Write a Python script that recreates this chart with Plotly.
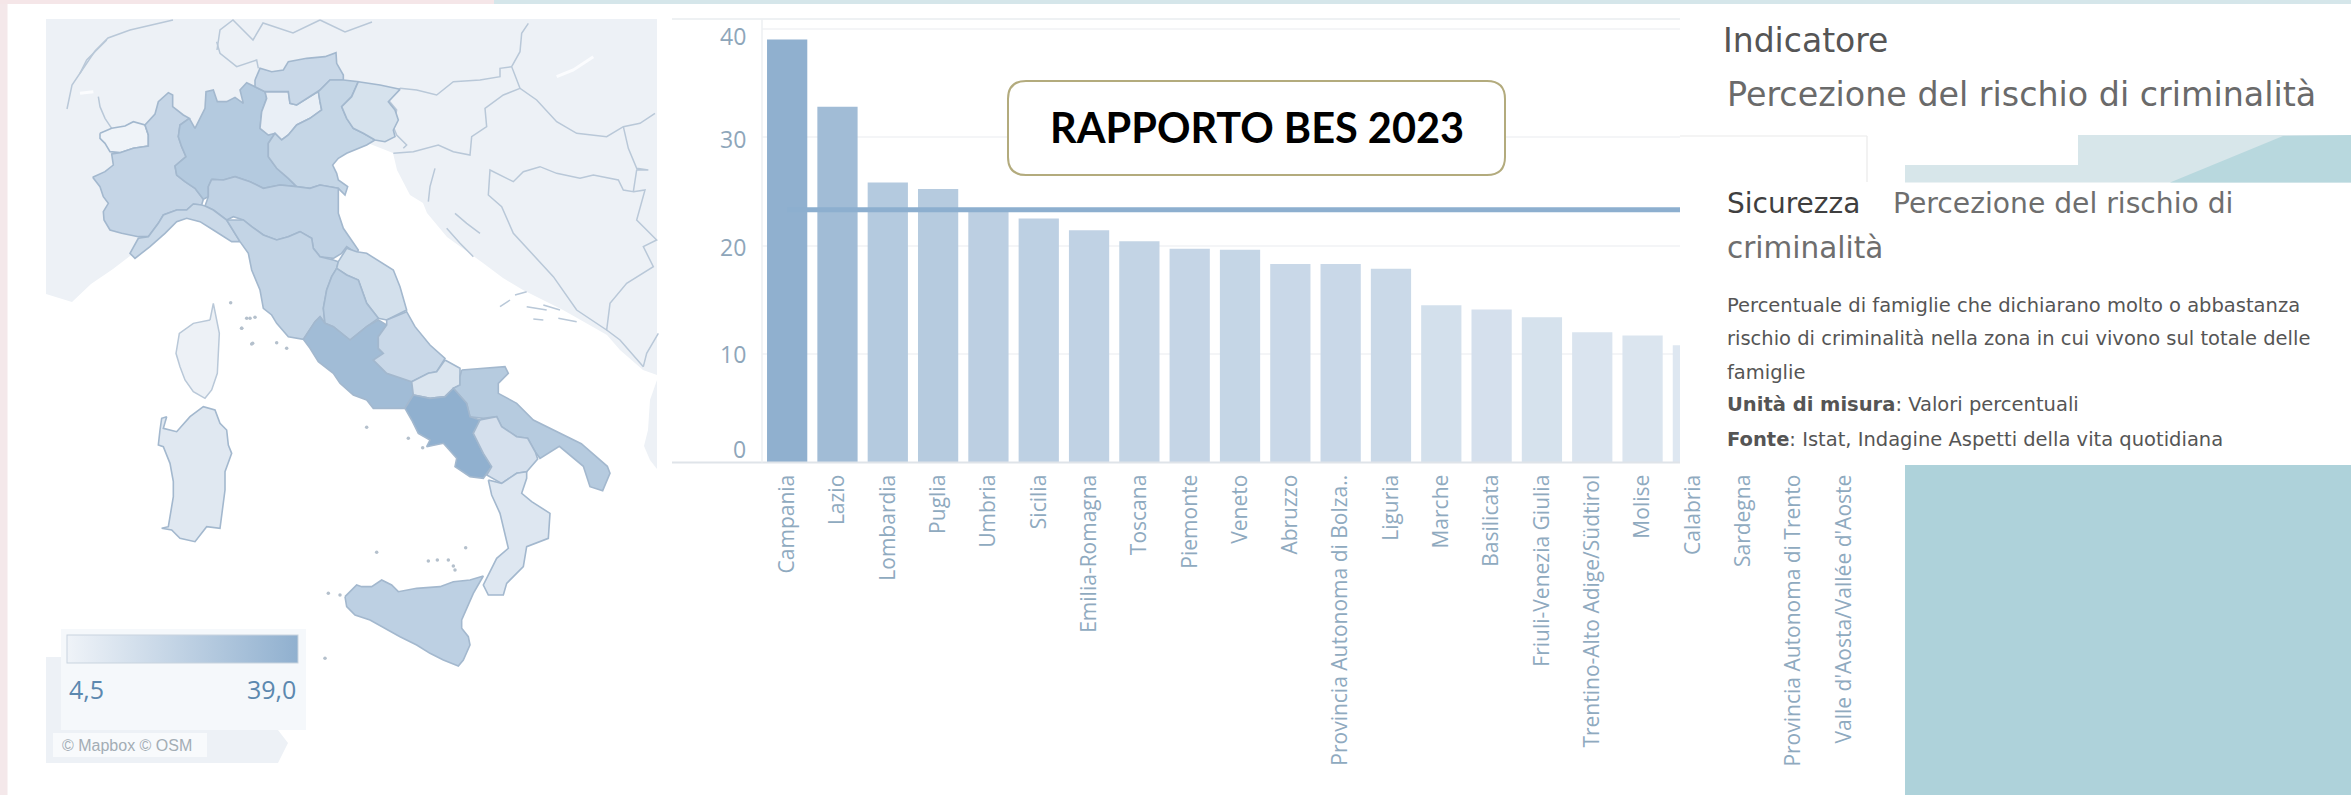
import plotly.graph_objects as go
from plotly.colors import sample_colorscale

# ---------- chart values ----------
REGIONS = ["Campania", "Lazio", "Lombardia", "Puglia", "Umbria", "Sicilia", "Emilia-Romagna", "Toscana",
           "Piemonte", "Veneto", "Abruzzo", "Provincia Autonoma di Bolza..", "Liguria", "Marche", "Basilicata",
           "Friuli-Venezia Giulia", "Trentino-Alto Adige/Südtirol", "Molise", "Calabria", "Sardegna",
           "Provincia Autonoma di Trento", "Valle d'Aosta/Vallée d'Aoste"]
VALUES = [39.0, 32.8, 25.8, 25.2, 23.2, 22.5, 21.4, 20.4, 19.7, 19.6, 18.3, 18.3, 17.85, 14.5, 14.1, 13.4,
          12.0, 11.7, 10.8, 10.0, 6.5, 4.5]
AVERAGE = 23.3
Y_TICKS = [0, 10, 20, 30, 40]
SCALE_MIN, SCALE_MAX = 4.5, 39.0
COLORSCALE = [[0, "#eff3f8"], [1, "#90b0cf"]]
VAL = dict(zip(REGIONS, VALUES))

# ---------- map outlines, traced in the zoom crops ----------
def crop(ox, oy):
    return lambda pts: [(ox + x / 3, oy + y / 3) for x, y in pts]
N, C, S, SD, E = crop(80, 40), crop(230, 220), crop(320, 460), crop(140, 290), crop(380, 20)

OUTLINES = {
 "Valle d'Aosta/Vallée d'Aoste": N([(60,280),(95,265),(135,258),(160,245),(195,255),(205,285),(205,318),(160,325),(120,338),(90,335),(75,310),(60,295)]),
 "Piemonte": N([(38,412),(75,395),(100,375),(95,342),(120,338),(160,325),(205,318),(205,285),(195,255),(225,222),(235,185),(265,158),(278,165),(278,200),(310,225),(328,235),(300,255),(295,290),(305,320),(318,350),(285,378),(290,405),(315,425),(345,445),(370,478),(365,495),(340,492),(320,510),(290,510),(250,525),(235,550),(205,590),(175,590),(125,580),(90,570),(72,540),(70,515),(85,490),(70,470),(60,440)]),
 "Lombardia": N([(328,235),(345,265),(375,205),(378,155),(400,150),(412,185),(440,185),(465,172),(490,190),(480,150),(500,128),(525,140),(555,155),(560,175),(545,215),(540,265),(565,285),(585,280),(565,310),(565,350),(590,385),(625,415),(650,440),(600,435),(550,445),(510,425),(465,410),(430,420),(395,418),(385,440),(385,470),(370,478),(345,445),(315,425),(290,405),(285,378),(318,350),(305,320),(295,290),(300,255)]),
 "Provincia Autonoma di Trento": N([(545,215),(560,175),(555,155),(590,155),(625,155),(630,190),(650,195),(690,170),(715,155),(720,185),(725,210),(690,235),(650,255),(625,285),(605,300),(585,280),(565,285),(540,265)]),
 "Provincia Autonoma di Bolza..": N([(525,120),(540,85),(575,95),(610,90),(625,65),(680,55),(735,50),(768,38),(770,70),(790,105),(790,120),(750,120),(720,150),(690,170),(650,195),(630,190),(625,155),(590,155),(555,155),(525,140)]),
 "Veneto": N([(790,120),(835,125),(815,170),(785,200),(800,235),(820,265),(850,280),(885,300),(860,315),(800,340),(775,355),(758,375),(770,400),(775,420),(803,440),(795,465),(775,445),(720,435),(690,445),(650,440),(625,415),(590,385),(565,350),(565,310),(585,280),(605,300),(625,285),(650,255),(690,235),(725,210),(720,185),(715,155),(750,120)]),
 "Friuli-Venezia Giulia": N([(835,125),(900,135),(960,148),(925,185),(945,210),(955,240),(940,270),(945,290),(915,305),(885,300),(850,280),(820,265),(800,235),(785,200),(815,170)]),
 "Emilia-Romagna": N([(395,418),(430,420),(465,410),(510,425),(550,445),(600,435),(650,440),(690,445),(720,435),(775,445),(775,520),(790,565),(835,630),(830,640),(800,620),(785,640),(760,655),(720,650),(700,625),(695,595),(660,575),(625,590),(590,600),(550,585),(515,560),(490,540),(460,530),(440,540),(400,510),(375,498),(385,470),(385,440)]),
 "Liguria": N([(365,495),(375,498),(400,510),(440,540),(480,605),(455,605),(400,570),(360,545),(320,535),(290,545),(255,580),(210,620),(165,655),(150,640),(175,595),(205,590),(235,550),(250,525),(290,510),(320,510),(340,492)]),
 "Toscana": C([(-10,0),(40,0),(65,20),(100,45),(140,60),(175,50),(210,35),(245,55),(250,85),(270,110),(310,120),(325,125),(320,145),(305,170),(290,210),(280,265),(285,310),(270,290),(255,305),(220,358),(175,350),(140,310),(125,285),(100,265),(90,210),(65,150),(55,100),(30,65)]),
 "Marche": C([(325,125),(350,85),(380,95),(410,100),(490,150),(510,200),(530,270),(470,300),(445,295),(410,250),(385,180),(350,165),(320,145)]),
 "Umbria": C([(320,145),(350,165),(385,180),(410,250),(445,295),(410,320),(360,360),(310,320),(285,310),(280,265),(290,210),(305,170)]),
 "Lazio": C([(220,358),(255,305),(270,290),(285,310),(310,320),(360,360),(410,320),(445,300),(470,315),(445,350),(445,385),(460,400),(430,420),(470,460),(545,485),(550,525),(525,565),(490,565),(430,565),(410,540),(370,525),(330,490),(310,460),(265,425),(240,385)]),
 "Abruzzo": C([(445,350),(470,315),(470,300),(530,275),(555,320),(600,375),(645,415),(620,455),(595,460),(555,480),(545,485),(470,460),(430,420),(460,400),(445,385)]),
 "Molise": C([(645,420),(690,445),(690,495),(670,505),(645,530),(600,535),(550,525),(545,485),(595,460),(620,455)]),
 "Puglia": C([(695,450),(750,445),(825,440),(835,460),(805,490),(805,520),(860,550),(910,600),(1054,671),(1132,739),(1140,760),(1118,812),(1080,800),(1060,739),(988,679),(930,715),(916,696),(893,655),(860,650),(815,620),(800,590),(760,595),(720,590),(710,550),(670,505),(690,495),(690,470)]),
 "Campania": C([(525,565),(550,525),(600,535),(645,530),(670,505),(710,550),(720,590),(750,600),(730,640),(760,700),(785,740),(760,775),(720,770),(675,740),(680,715),(640,670),(590,680),(600,660),(565,640),(545,600)]),
 "Basilicata": C([(750,600),(800,590),(815,620),(860,650),(893,655),(916,696),(923,717),(890,755),(860,760),(815,790),(770,765),(785,740),(760,700),(730,640)]),
 "Calabria": S([(505,60),(545,70),(590,40),(620,35),(620,55),(605,100),(635,125),(690,160),(685,235),(620,260),(610,320),(560,370),(550,405),(505,405),(490,375),(530,295),(565,265),(555,220),(540,160),(515,105)]),
 "Sicilia": S([(75,410),(110,375),(125,380),(155,380),(185,360),(215,375),(235,395),(290,385),(360,380),(400,365),(450,360),(490,348),(460,400),(425,480),(425,505),(445,530),(450,555),(430,600),(415,618),(370,600),(330,580),(290,555),(240,530),(195,505),(150,480),(105,465),(80,440)]),
 "Sardegna": SD([(60,420),(65,385),(80,380),(70,415),(110,425),(150,380),(190,350),(225,360),(240,400),(260,420),(265,465),(275,490),(255,545),(255,600),(240,715),(200,710),(165,755),(120,745),(95,720),(65,715),(85,710),(100,620),(100,575),(90,520),(70,470),(55,465)]),
}
LAND = [
 [(46,19),(657,19),(657,375),(643,370),(620,350),(607,335),(593,327),(563,310),(523,290),(503,278),(483,263),(447,237),(427,213),(423,203),(410,195),(397,170),(393,153),(360,140),(300,170),(200,200),(130,256),(113,269),(91,284),(72,302),(46,294)],
 [(657,380),(650,400),(648,430),(644,446),(650,460),(657,469)],
 [(46,657),(61,657),(61,730),(278,730),(288,743),(278,763),(46,763)],
 SD([(210,90),(220,40),(230,90),(238,130),(232,250),(215,300),(195,325),(160,305),(135,270),(120,230),(108,190),(118,130),(160,100)]),
]
BORDERS = [
 E([(445,10),(425,40),(420,95),(395,140),(420,205),(470,240),(530,305),(590,340),(680,350),(730,320),(780,310),(825,280)]),
 E([(60,205),(110,210),(170,225),(220,185),(300,180),(360,170),(360,145),(395,140)]),
 E([(40,400),(100,395),(175,375),(220,395),(270,405),(275,350),(320,320),(315,265),(370,225),(420,205)]),
 E([(60,205),(25,240),(50,270),(40,320),(50,345),(80,375),(70,385)]),
 E([(730,320),(745,385),(770,445),(805,450),(770,450),(760,515),(730,510),(715,480),(640,465),(600,475),(530,460),(480,440),(430,455),(400,485),(330,450),(325,525),(365,560),(400,640),(520,770),(590,870),(680,930),(690,850),(740,790),(820,740),(790,680),(830,660),(770,600),(795,510),(760,515)]),
 E([(680,930),(720,960),(790,1040),(800,1000),(835,940)]),
 N([(0,100),(20,60),(80,0)]),
 N([(55,170),(60,200),(75,235),(95,265)]),
 N([(410,5),(420,40),(470,80),(530,60),(535,85)]),
 [(67,109),(72,85),(95,51),(108,38),(130,30),(173,20)],
 [(217,50),(220,30),(233,20),(253,40),(263,23),(283,30),(293,33),(320,20)],
 [(320,20),(345,32),(372,22)],
 E([(145,545),(150,500),(165,445)]),
 E([(225,580),(260,610),(300,640)]),
 E([(200,625),(240,670),(280,710)]),
 E([(360,860),(390,840)]),
 E([(405,825),(440,815)]),
 E([(440,860),(500,870)]),
 E([(490,855),(540,870)]),
 E([(535,895),(590,905)]),
 E([(460,897),(490,900)]),
]
STREAKS = [E([(530,170),(580,150),(640,110)]), N([(0,160),(40,155)])]
ISLETS = C([(35,325),(65,372),(140,368),(170,385),(410,622),(535,655),(578,683),(50,295),(75,292)]) + \
         S([(170,277),(325,303),(352,300),(385,300),(400,318),(405,330),(437,263),(25,400),(60,405),(15,595)]) + \
         SD([(272,38),(305,115),(338,160),(330,85)])

# ---------- figure ----------
W, H = 2351, 795
def color_of(v):
    return sample_colorscale(COLORSCALE, [(v - SCALE_MIN) / (SCALE_MAX - SCALE_MIN)])[0]

fig = go.Figure()
LAND_COL, BORDER_COL, REGION_LINE = "#edf1f6", "#b9c8d8", "#a3b8ce"
PX = dict(xaxis="x2", yaxis="y2", hoverinfo="skip", showlegend=False)

def closed(pts):
    return [p[0] for p in pts] + [pts[0][0]], [p[1] for p in pts] + [pts[0][1]]

for pts in LAND:
    x, y = closed(pts)
    fig.add_trace(go.Scatter(x=x, y=y, mode="none", fill="toself", fillcolor=LAND_COL, **PX))
for pts in STREAKS:
    fig.add_trace(go.Scatter(x=[p[0] for p in pts], y=[p[1] for p in pts], mode="lines",
                             line=dict(color="#fbfcfe", width=3), **PX))
for pts in BORDERS:
    fig.add_trace(go.Scatter(x=[p[0] for p in pts], y=[p[1] for p in pts], mode="lines",
                             line=dict(color=BORDER_COL, width=1.5), **PX))
x, y = closed(LAND[3])
fig.add_trace(go.Scatter(x=x, y=y, mode="lines", line=dict(color=BORDER_COL, width=1.5), **PX))
for name, pts in OUTLINES.items():
    x, y = closed(pts)
    fig.add_trace(go.Scatter(x=x, y=y, mode="lines", fill="toself", fillcolor=color_of(VAL[name]),
                             line=dict(color=REGION_LINE, width=1.6), **PX))
fig.add_trace(go.Scatter(x=[p[0] for p in ISLETS], y=[p[1] for p in ISLETS], mode="markers",
                         marker=dict(color="#b4c0cc", size=3.5), **PX))

fig.add_trace(go.Bar(
    x=REGIONS, y=VALUES, showlegend=False, hoverinfo="x+y",
    marker=dict(color=VALUES, colorscale=COLORSCALE, cmin=SCALE_MIN, cmax=SCALE_MAX, showscale=True, line_width=0,
                colorbar=dict(orientation="h", x=67 / W, xanchor="left", y=1 - 664 / H, yanchor="bottom",
                              len=231, lenmode="pixels", thickness=28, thicknessmode="pixels",
                              xpad=0, ypad=0, outlinecolor="#c9d4df", outlinewidth=1,
                              showticklabels=False, ticks=""))))
fig.add_trace(go.Scatter(x=[REGIONS[0], REGIONS[-1]], y=[AVERAGE, AVERAGE], mode="lines", showlegend=False,
                         line=dict(color="#8dafcf", width=5), hoverinfo="skip"))

def rect(x0, y0, x1, y1, color):
    return dict(type="rect", xref="x2", yref="y2", x0=x0, y0=y0, x1=x1, y1=y1, fillcolor=color, line_width=0, layer="above")
def seg(x0, y0, x1, y1, color, w=1.5):
    return dict(type="line", xref="x2", yref="y2", x0=x0, y0=y0, x1=x1, y1=y1, line=dict(color=color, width=w), layer="above")

BX0, BY0, BX1, BY1, R = 1008, 81, 1505, 175, 18
box_path = (f"M{BX0+R},{BY0} L{BX1-R},{BY0} Q{BX1},{BY0} {BX1},{BY0+R} L{BX1},{BY1-R} Q{BX1},{BY1} {BX1-R},{BY1} "
            f"L{BX0+R},{BY1} Q{BX0},{BY1} {BX0},{BY1-R} L{BX0},{BY0+R} Q{BX0},{BY0} {BX0+R},{BY0} Z")

shapes = [
    seg(672, 19, 1684, 19, "#e9ecef"), seg(672, 462.5, 1684, 462.5, "#dfe4e9", 2), seg(762, 19, 762, 462.5, "#eceff2"),
    rect(1680, 0, W, 465, "#ffffff"),
    seg(1680, 136, 1867, 136, "#f1f1f1"), seg(1867, 136, 1867, 182, "#eeeeee"),
    rect(2078, 135, W, 182.5, "#d7e6ea"), rect(1905, 165, 2078, 182.5, "#d7e6ea"),
    dict(type="path", xref="x2", yref="y2", path="M2170,182.5 L2283,136 L2351,135 L2351,182.5 Z",
         fillcolor="#b8d8de", line_width=0, layer="above"),
    rect(1905, 465, W, H, "#aed2da"),
    rect(0, 0, 7.5, H, "#f4e8ea"), rect(0, 0, 494, 4, "#f5e6e8"), rect(494, 0, W, 4, "#d5e6ea"),
    rect(61, 629, 306, 730, "#f5f8fb"), rect(53, 733, 207, 757, "#f8fafc"),
    dict(type="path", xref="x2", yref="y2", path=box_path, fillcolor="#ffffff",
         line=dict(color="#b3ab7d", width=2), layer="above"),
]

FONT = "Open Sans"
SIDE = "DejaVu Sans"
def label(text, x, y, size, color, anchor="left", family=FONT):
    return dict(text=text, x=x, y=y, xref="x2", yref="y2", xanchor=anchor, yanchor="middle", showarrow=False,
                font=dict(family=family, size=size, color=color))

TICK_SHIFT = {0: 14, 10: 0, 20: -1, 30: -2, 40: -7}
annos = [dict(text=str(t), x=748 / W, y=t, xref="paper", yref="y", xanchor="right", yanchor="middle",
              yshift=TICK_SHIFT[t], showarrow=False, font=dict(family=FONT, size=23, color="#8ea6ba")) for t in Y_TICKS]
annos += [
    label("4,5", 67, 689, 25, "#5c88af"), label("39,0", 298, 689, 25, "#5c88af", "right"),
    label("© Mapbox © OSM", 60, 745, 16, "#a3adb5", family="Liberation Sans"),
    label("<b>RAPPORTO BES 2023</b>", 1256.5, 127, 41.5, "#000000", "center", "Lato"),
    label("Indicatore", 1721, 40, 33, "#555555", family=SIDE),
    label("Percezione del rischio di criminalità", 1725, 94, 33.3, "#6a6a6a", family=SIDE),
    label("Sicurezza", 1725, 203, 28, "#3f3f3f", family=SIDE),
    label("Percezione del rischio di", 1891, 203, 28.2, "#6e6e6e", family=SIDE),
    label("criminalità", 1725, 248, 29.5, "#6e6e6e", family=SIDE),
    label("Percentuale di famiglie che dichiarano molto o abbastanza", 1725, 305, 19.5, "#555555", family=SIDE),
    label("rischio di criminalità nella zona in cui vivono sul totale delle", 1725, 338, 19.5, "#555555", family=SIDE),
    label("famiglie", 1725, 372, 19.5, "#555555", family=SIDE),
    label("<b>Unità di misura</b>: Valori percentuali", 1725, 404, 19.5, "#555555", family=SIDE),
    label("<b>Fonte</b>: Istat, Indagine Aspetti della vita quotidiana", 1725, 439, 19.5, "#555555", family=SIDE),
]

fig.update_layout(
    width=W, height=H, margin=dict(l=0, r=0, t=0, b=0), paper_bgcolor="#ffffff", plot_bgcolor="rgba(0,0,0,0)",
    bargap=0.2, shapes=shapes, annotations=annos, autosize=False,
    xaxis=dict(domain=[762 / W, 1869 / W], range=[-0.5, 21.5], type="category", categoryorder="array",
               categoryarray=REGIONS, tickmode="array", tickvals=REGIONS, ticktext=REGIONS, tickangle=-90,
               ticks="", showgrid=False, showline=False, zeroline=False, ticklabelstandoff=7,
               tickfont=dict(family=FONT, size=21, color="#8faabf")),
    yaxis=dict(domain=[1 - 462.5 / H, 1 - 19 / H], range=[0, 40.88], tickmode="array", tickvals=Y_TICKS,
               showticklabels=False, ticks="", showgrid=True, gridcolor="#f4f5f7", gridwidth=1.5,
               zeroline=False, showline=False),
    xaxis2=dict(domain=[0, 1], range=[0, W], visible=False, fixedrange=True),
    yaxis2=dict(domain=[0, 1], range=[H, 0], visible=False, fixedrange=True),
)
fig.write_html("out.html", config=dict(displayModeBar=False),
               post_script="document.body.style.margin='0';document.body.style.overflow='hidden';")
